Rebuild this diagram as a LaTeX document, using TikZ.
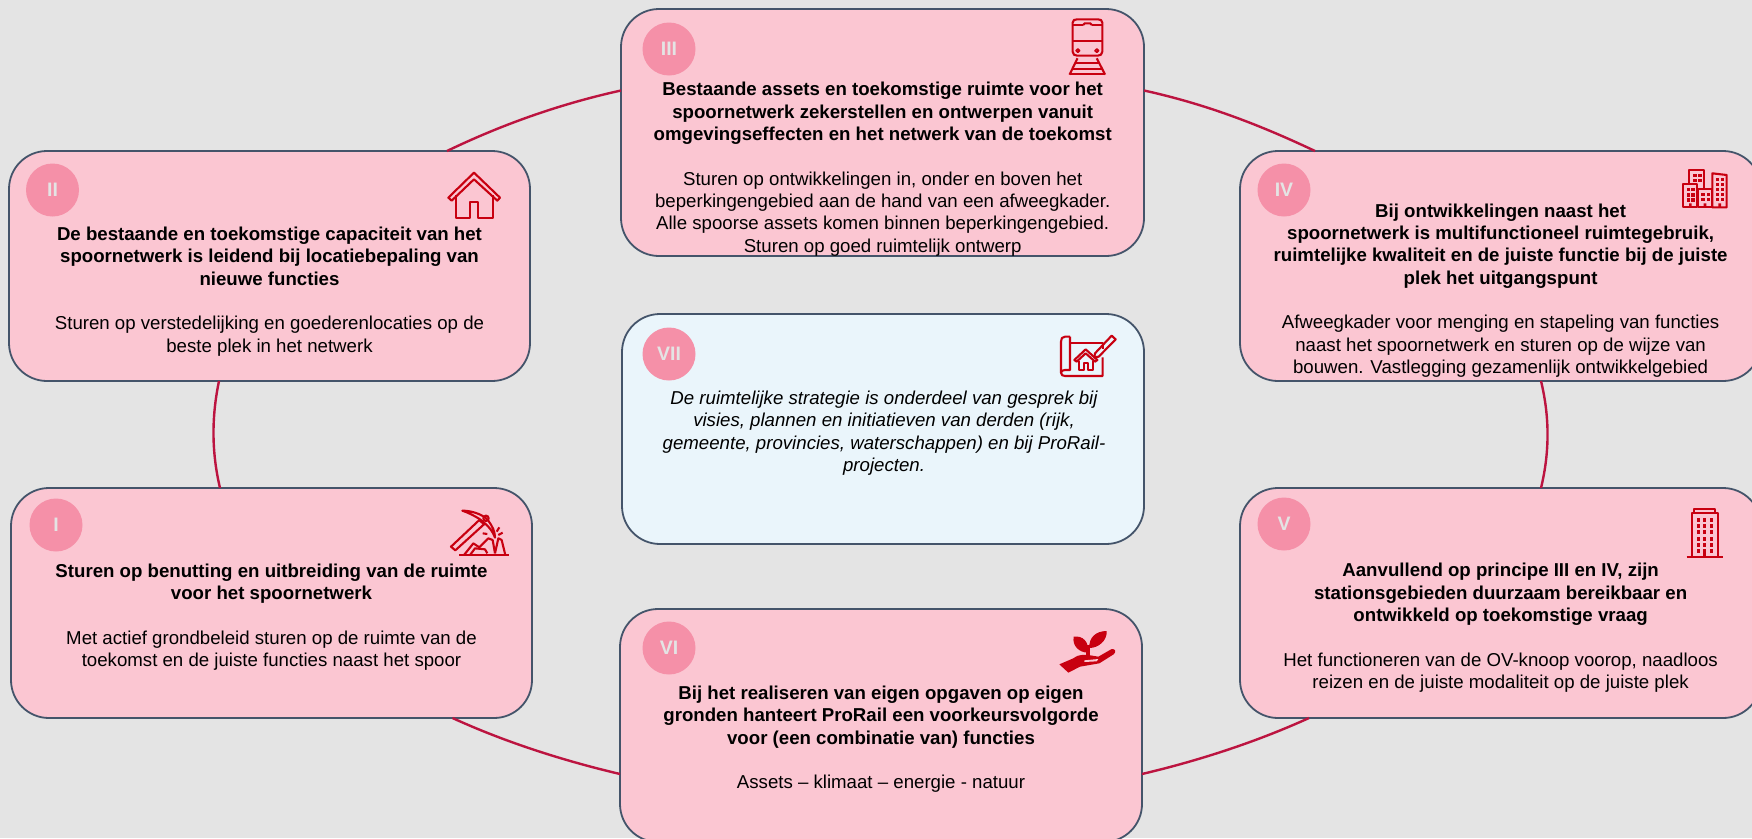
\documentclass[tikz,border=0pt]{standalone}
\usepackage{fontspec}
\setmainfont{Liberation Sans}
\definecolor{bgc}{HTML}{E4E4E4}
\definecolor{pinkc}{HTML}{FBC6D2}
\definecolor{bluec}{HTML}{EAF5FB}
\definecolor{edgec}{HTML}{44546A}
\definecolor{ringc}{HTML}{BC1440}
\definecolor{numc}{HTML}{F590A8}
\definecolor{iconc}{HTML}{C80010}
\tikzset{
 pbox/.style={draw=edgec,line width=1.8pt,fill=pinkc,rectangle,rounded corners=38pt,inner sep=0pt,outer sep=0pt,minimum width=#1},
 ring/.style={draw=ringc,line width=2.4pt},
 numdot/.style={circle,fill=numc,minimum size=53pt,inner sep=0pt,text=bgc,font=\fontsize{19.5}{22}\selectfont\bfseries},
 txt/.style={anchor=north,align=center,inner sep=0pt,text=black,font=\fontsize{18.65}{22.35}\selectfont},
 icon/.style={draw=iconc,line width=2.1pt,line join=round,fill=none},
 iconf/.style={fill=iconc,draw=none},
}
\newcommand{\gap}{\\[22.35pt]}
\begin{document}
\begin{tikzpicture}[x=1pt,y=-1pt]
\useasboundingbox (0,0) rectangle (1752,838);
\clip (0,0) rectangle (1752,838);
\fill[bgc] (0,0) rectangle (1752,838);
% boxes
\node[pbox=521pt,minimum height=230pt] (II) at (269.5,266) {};
\node[pbox=521pt,minimum height=230pt] (I) at (271.5,603) {};
\node[pbox=523pt,minimum height=247pt] (III) at (882.5,132.5) {};
\node[pbox=522pt,minimum height=230pt,fill=bluec] (VII) at (883,429) {};
\node[pbox=522pt,minimum height=233pt] (VI) at (881,725.5) {};
\node[pbox=521pt,minimum height=230pt] (IV) at (1500.5,266) {};
\node[pbox=521pt,minimum height=230pt] (V) at (1500.5,603) {};
% ring
\draw[ring] ([xshift=438pt]II.north west) .. controls (499.4,125.8) and (557.3,104.5) .. ([yshift=-81.5pt]III.north west);
\draw[ring] ([yshift=-81.5pt]III.north east) .. controls (1207.7,104.5) and (1261.6,125.8) .. ([xshift=75pt]IV.north west);
\draw[ring] ([xshift=301pt]IV.south west) .. controls (1549.7,417) and (1549.7,452) .. ([xshift=301pt]V.north west);
\draw[ring] ([xshift=69pt]V.south west) .. controls (1258,741.1) and (1201.8,759.9) .. ([yshift=-165pt]VI.north east);
\draw[ring] ([yshift=-165pt]VI.north west) .. controls (560.2,759.9) and (503,741.1) .. ([xshift=441.5pt]I.south west);
\draw[ring] ([xshift=209pt]I.north west) .. controls (211.5,452) and (211.5,417) .. ([xshift=210pt]II.south west);
% number dots
\node[numdot] (nII) at (52.5,190) {II};
\node[numdot] (nI) at (56,525) {I};
\node[numdot] (nIII) at (669,49) {III};
\node[numdot] (nVII) at (669,354) {VII};
\node[numdot] (nVI) at (669,648) {VI};
\node[numdot] (nIV) at (1284,190) {IV};
\node[numdot] (nV) at (1284,524) {V};
% texts
\node[txt] (tIII) at (882.7,82) {\textbf{Bestaande assets en toekomstige ruimte voor het}\\\textbf{spoornetwerk zekerstellen en ontwerpen vanuit}\\\textbf{omgevingseffecten en het netwerk van de toekomst}\gap Sturen op ontwikkelingen in, onder en boven het\\beperkingengebied aan de hand van een afweegkader.\\Alle spoorse assets komen binnen beperkingengebied.\\Sturen op goed ruimtelijk ontwerp};
\node[txt] (tII) at (269.5,226.6) {\textbf{De bestaande en toekomstige capaciteit van het}\\\textbf{spoornetwerk is leidend bij locatiebepaling van}\\\textbf{nieuwe functies}\gap Sturen op verstedelijking en goederenlocaties op de\\beste plek in het netwerk};
\node[txt] (tI) at (271.5,563.5) {\textbf{Sturen op benutting en uitbreiding van de ruimte}\\\textbf{voor het spoornetwerk}\gap Met actief grondbeleid sturen op de ruimte van de\\toekomst en de juiste functies naast het spoor};
\node[txt] (tIV) at (1500.6,203.5) {\textbf{Bij ontwikkelingen naast het}\\\textbf{spoornetwerk is multifunctioneel ruimtegebruik,}\\\textbf{ruimtelijke kwaliteit en de juiste functie bij de juiste}\\\textbf{plek het uitgangspunt}\gap Afweegkader voor menging en stapeling van functies\\naast het spoornetwerk en sturen op de wijze van\\bouwen. Vastlegging gezamenlijk ontwikkelgebied};
\node[txt] (tV) at (1500.6,563) {\textbf{Aanvullend op principe III en IV, zijn}\\\textbf{stationsgebieden duurzaam bereikbaar en}\\\textbf{ontwikkeld op toekomstige vraag}\gap Het functioneren van de OV-knoop voorop, naadloos\\reizen en de juiste modaliteit op de juiste plek};
\node[txt] (tVI) at (881,685.6) {\textbf{Bij het realiseren van eigen opgaven op eigen}\\\textbf{gronden hanteert ProRail een voorkeursvolgorde}\\\textbf{voor (een combinatie van) functies}\gap Assets – klimaat – energie - natuur};
\node[txt] (tVII) at (884,390.6) {\itshape De ruimtelijke strategie is onderdeel van gesprek bij\\\itshape visies, plannen en initiatieven van derden (rijk,\\\itshape gemeente, provincies, waterschappen) en bij ProRail-\\\itshape projecten.};
% train
\begin{scope}[shift={(620,0)},x=0.345pt,y=-0.3333pt]
\draw[icon] (1312,68) .. controls (1312,60) and (1318,58) .. (1325,58) -- (1385,58) .. controls (1392,58) and (1398,60) .. (1398,68) -- (1398,155) .. controls (1398,163) and (1392,167) .. (1385,167) -- (1325,167) .. controls (1318,167) and (1312,163) .. (1312,155) -- cycle;
\draw[icon] (1312,122) -- (1398,122);
\draw[icon] (1342,75) -- (1347,70) -- (1363,70) -- (1368,75);
\draw[icon] (1312,75) -- (1342,75) (1368,75) -- (1398,75);
\draw[icon,line width=1.7pt] (1327,152) circle (5);
\draw[icon,line width=1.7pt] (1382,152) circle (5);
\draw[icon] (1326,175) -- (1303,224) (1382,175) -- (1406,224);
\draw[icon] (1318,190) -- (1390,190) (1311,208) -- (1398,208) (1303,222) -- (1406,222);
\end{scope}
% house
\begin{scope}[shift={(420,150)},x=0.3333pt,y=-0.3333pt]
\draw[icon] (162,68) -- (240,143) -- (232,152) -- (162,88) -- (95,152) -- (85,143) -- cycle;
\draw[icon] (107,135) -- (107,204) -- (150,204) -- (150,155) -- (175,155) -- (175,204) -- (218,204) -- (218,135);
\end{scope}
% pickaxe
\begin{scope}[shift={(430,490)},x=0.3333pt,y=-0.3333pt]
\draw[icon] (63,170) -- (148,90) -- (162,103) -- (76,181) -- cycle;
\draw[icon] (97,62) .. controls (125,62) and (150,72) .. (165,82) -- (175,92) .. controls (188,110) and (195,125) .. (195,143) .. controls (185,115) and (165,100) .. (150,88) .. controls (135,78) and (115,68) .. cycle;
\draw[icon] (168,85) circle (8);
\draw[icon] (88,195) -- (236,195);
\draw[icon] (102,195) -- (130,160) -- (148,172) -- (175,145) -- (188,150) -- (195,190);
\draw[icon] (195,190) -- (205,145) -- (215,150) -- (226,195);
\draw[icon] (120,195) -- (135,175) -- (165,178) -- (172,190);
\draw[icon] (158,130) -- (172,132) (200,125) -- (208,112) (205,135) -- (218,128);
\end{scope}
% plant in hand
\begin{scope}[shift={(1030,610)},x=0.3333pt,y=-0.3333pt]
\fill[iconf] (88,163) -- (130,145) .. controls (150,130) and (165,133) .. (205,140) -- (245,117) .. controls (257,116) and (259,125) .. (251,133) -- (208,160) -- (150,170) -- (115,188) -- cycle;
\fill[pinkc] (163,151) -- (205,147) -- (200,154) -- (163,156) -- cycle;
\fill[iconf] (131,80) .. controls (158,76) and (178,95) .. (174,128) .. controls (148,128) and (126,108) .. (131,80) -- cycle;
\fill[iconf] (230,63) .. controls (232,92) and (205,114) .. (178,114) .. controls (176,82) and (198,63) .. (230,63) -- cycle;
\fill[iconf] (168,105) -- (180,105) -- (180,135) -- (168,135) -- cycle;
\end{scope}
% plan
\begin{scope}[shift={(1040,320)},x=0.3333pt,y=-0.3333pt]
\draw[icon] (90,50) -- (75,50) .. controls (66,50) and (63,56) .. (63,65) -- (63,158) .. controls (63,165) and (68,168) .. (75,168) -- (188,168) -- (188,112);
\draw[icon] (90,50) -- (90,150) -- (75,150) .. controls (68,150) and (63,153) .. (63,158);
\draw[icon] (90,70) -- (188,70) -- (188,88);
\draw[icon] (103,120) -- (137,88) -- (172,120) -- (165,125) -- (137,100) -- (110,125) -- cycle;
\draw[icon] (116,122) -- (116,150) -- (132,150) -- (132,130) -- (145,130) -- (145,150) -- (160,150) -- (160,122);
\draw[icon] (165,100) -- (215,47) -- (227,58) -- (176,110) -- (163,112) -- cycle;
\end{scope}
% buildings
\begin{scope}[shift={(1670,160)},x=0.3333pt,y=-0.3333pt]
\draw[icon] (58,72) -- (58,30) -- (103,30) -- (103,88);
\draw[icon] (40,72) rectangle (82,142);
\draw[icon] (84,88) rectangle (126,142);
\draw[icon] (127,142) -- (127,40) -- (170,45) -- (170,142) -- cycle;
\foreach \p in {(70,42),(85,42),(70,57),(85,57),(50,84),(64,84),(50,100),(64,100),(50,115),(64,115),(94,99),(110,99),(94,114),(110,114),(138,54),(152,54),(138,69),(152,69),(138,84),(152,84),(138,99),(152,99),(138,114),(152,114)}
  \fill[iconf] \p rectangle ++(10,10);
\fill[iconf] (57,130) rectangle (65,142) (101,130) rectangle (109,142) (145,130) rectangle (153,142);
\end{scope}
% tower
\begin{scope}[shift={(1670,500)},x=0.3333pt,y=-0.3333pt]
\draw[icon] (50,170) -- (160,170);
\draw[icon] (65,170) -- (65,40) -- (145,40) -- (145,170);
\draw[icon] (73,40) -- (73,28) -- (135,28) -- (135,40);
\foreach \x in {81,99,120} \foreach \y in {54,72,91,110,129,147}
  \fill[iconf] (\x,\y) rectangle ++(9,12);
\fill[iconf] (100,150) rectangle (108,170);
\end{scope}
\end{tikzpicture}
\end{document}
